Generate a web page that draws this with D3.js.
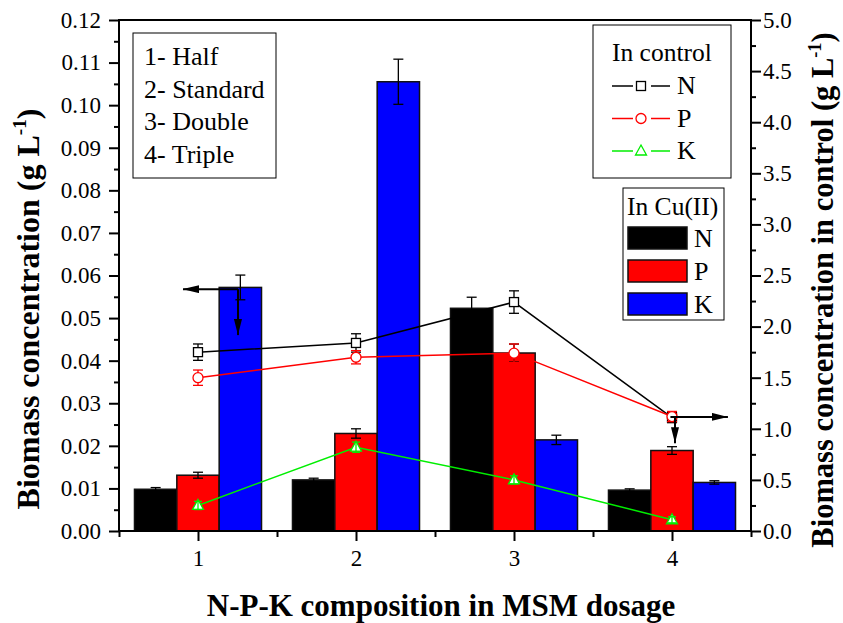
<!DOCTYPE html>
<html>
<head>
<meta charset="utf-8">
<script src="https://cdn.jsdelivr.net/npm/d3@7"></script>
<style>
  html, body { margin: 0; padding: 0; background: #fff; }
  svg { display: block; }
</style>
</head>
<body>
<svg id="chart" width="843" height="623"></svg>
<script>
// NPK dosage groups (1 = half, 2 = standard, 3 = double, 4 = triple)
const categories = [1, 2, 3, 4];
const categoryLabels = ["1", "2", "3", "4"];

// Biomass in Cu(II) medium, g/L (left axis) with error
const cuN = [0.0098, 0.0120, 0.0523, 0.0096];
const cuNErr = [0.0004, 0.0004, 0.0026, 0.0003];
const cuP = [0.0131, 0.0229, 0.0418, 0.0189];
const cuPErr = [0.0007, 0.0011, 0.0021, 0.0009];
const cuK = [0.0572, 0.1055, 0.0214, 0.0114];
const cuKErr = [0.0029, 0.0053, 0.0011, 0.0004];

// Biomass in control medium, g/L (right axis) with error
const ctrlN = [1.75, 1.84, 2.24, 1.11];
const ctrlNErr = [0.08, 0.09, 0.11, 0.05];
const ctrlP = [1.50, 1.70, 1.74, 1.12];
const ctrlPErr = [0.075, 0.065, 0.09, 0.05];
const ctrlK = [0.25, 0.82, 0.50, 0.11];
const ctrlKErr = [0.04, 0.05, 0.04, 0.03];

// Axis ticks
const leftTicks = [0.00, 0.01, 0.02, 0.03, 0.04, 0.05, 0.06, 0.07, 0.08, 0.09, 0.10, 0.11, 0.12];
const rightTicks = [0.0, 0.5, 1.0, 1.5, 2.0, 2.5, 3.0, 3.5, 4.0, 4.5, 5.0];

// Dosage legend lines
const dosageNames = ["1- Half", "2- Standard", "3- Double", "4- Triple"];

const FONT = "'Liberation Serif', 'Times New Roman', Times, serif";
const svg = d3.select("#chart");

const plot = { left: 119, right: 751, top: 20, bottom: 531 };
const x = d3.scaleLinear().domain([0.5, 4.5]).range([plot.left, plot.right]);
const yL = d3.scaleLinear().domain([0, 0.12]).range([plot.bottom, plot.top]);
const yR = d3.scaleLinear().domain([0, 5]).range([plot.bottom, plot.top]);

const barW = 0.268; // bar width in category units
const colors = { N: "#000000", P: "#ff0000", K: "#0000ff" };
const lineColors = { N: "#000000", P: "#ff0000", K: "#00ee00" };

// ---- Bars (Cu(II)) ----
const barSeries = [
  { key: "N", vals: cuN, errs: cuNErr, off: -1 },
  { key: "P", vals: cuP, errs: cuPErr, off: 0 },
  { key: "K", vals: cuK, errs: cuKErr, off: 1 }
];
const barData = [];
barSeries.forEach(s => categories.forEach((c, i) => {
  barData.push({ key: s.key, c, v: s.vals[i], e: s.errs[i], cx: c + s.off * barW });
}));

const gBars = svg.append("g");
gBars.selectAll("rect").data(barData).join("rect")
  .attr("x", d => x(d.cx - barW / 2))
  .attr("y", d => yL(d.v))
  .attr("width", d => x(d.cx + barW / 2) - x(d.cx - barW / 2))
  .attr("height", d => yL(0) - yL(d.v))
  .attr("fill", d => colors[d.key])
  .attr("stroke", "#111")
  .attr("stroke-width", 1.5);

function errorBars(g, data, xf, yf, color, cap) {
  const eg = g.append("g").attr("stroke", color).attr("stroke-width", 1.3).attr("fill", "none");
  data.forEach(d => {
    const cx = xf(d), y1 = yf(d.v - d.e), y2 = yf(d.v + d.e);
    eg.append("line").attr("x1", cx).attr("x2", cx).attr("y1", y1).attr("y2", y2);
    eg.append("line").attr("x1", cx - cap).attr("x2", cx + cap).attr("y1", y1).attr("y2", y1);
    eg.append("line").attr("x1", cx - cap).attr("x2", cx + cap).attr("y1", y2).attr("y2", y2);
  });
}
errorBars(svg, barData, d => x(d.cx), yL, "#000", 5);

// ---- Control series (lines + markers) ----
const ctrlSeries = [
  { key: "N", vals: ctrlN, errs: ctrlNErr, shape: "square" },
  { key: "P", vals: ctrlP, errs: ctrlPErr, shape: "circle" },
  { key: "K", vals: ctrlK, errs: ctrlKErr, shape: "triangle" }
];

function drawMarker(g, shape, cx, cy, color) {
  if (shape === "square") {
    g.append("rect").attr("x", cx - 4.5).attr("y", cy - 4.5).attr("width", 9).attr("height", 9)
      .attr("fill", "#fff").attr("stroke", color).attr("stroke-width", 1.3);
  } else if (shape === "circle") {
    g.append("circle").attr("cx", cx).attr("cy", cy).attr("r", 5)
      .attr("fill", "#fff").attr("stroke", color).attr("stroke-width", 1.3);
  } else {
    g.append("path").attr("d", `M${cx},${cy - 6}L${cx + 5.5},${cy + 4}L${cx - 5.5},${cy + 4}Z`)
      .attr("fill", "#fff").attr("stroke", color).attr("stroke-width", 1.3);
  }
}

const line = d3.line().x(d => x(d.c)).y(d => yR(d.v));
ctrlSeries.forEach(s => {
  const pts = categories.map((c, i) => ({ c, v: s.vals[i], e: s.errs[i] }));
  const g = svg.append("g");
  g.append("path").datum(pts).attr("d", line)
    .attr("fill", "none").attr("stroke", lineColors[s.key]).attr("stroke-width", 1.5);
  if (s.shape !== "triangle") errorBars(g, pts, d => x(d.c), yR, lineColors[s.key], 5);
  pts.forEach(p => drawMarker(g, s.shape, x(p.c), yR(p.v), lineColors[s.key]));
  if (s.shape === "triangle") errorBars(g, pts, d => x(d.c), yR, lineColors[s.key], 4);
});

// ---- Axes ----
function styleAxis(g, size) {
  g.select(".domain").remove();
  g.selectAll(".tick line").attr("stroke", "#000").attr("stroke-width", 2);
  g.selectAll(".tick text").attr("font-family", FONT).attr("font-size", size).attr("fill", "#000");
}
const minorL = d3.range(0.005, 0.12, 0.01);
const minorR = d3.range(0.25, 5, 0.5);
const minorX = [0.5, 1.5, 2.5, 3.5, 4.5];

svg.append("g").attr("transform", `translate(${plot.left},0)`)
  .call(d3.axisLeft(yL).tickValues(leftTicks).tickSize(10).tickPadding(8).tickFormat(d3.format(".2f")))
  .call(g => styleAxis(g, 23));
svg.append("g").attr("transform", `translate(${plot.left},0)`)
  .call(d3.axisLeft(yL).tickValues(minorL).tickSize(5).tickFormat(""))
  .call(g => styleAxis(g, 23));

svg.append("g").attr("transform", `translate(${plot.right},0)`)
  .call(d3.axisRight(yR).tickValues(rightTicks).tickSize(10).tickPadding(2).tickFormat(d3.format(".1f")))
  .call(g => styleAxis(g, 23));
svg.append("g").attr("transform", `translate(${plot.right},0)`)
  .call(d3.axisRight(yR).tickValues(minorR).tickSize(5).tickFormat(""))
  .call(g => styleAxis(g, 23));

svg.append("g").attr("transform", `translate(0,${plot.bottom})`)
  .call(d3.axisBottom(x).tickValues(categories).tickSize(10).tickPadding(9)
    .tickFormat((d, i) => categoryLabels[i]))
  .call(g => styleAxis(g, 23));
svg.append("g").attr("transform", `translate(0,${plot.bottom})`)
  .call(d3.axisBottom(x).tickValues(minorX).tickSize(6).tickFormat(""))
  .call(g => styleAxis(g, 23));

// frame
svg.append("rect")
  .attr("x", plot.left).attr("y", plot.top)
  .attr("width", plot.right - plot.left).attr("height", plot.bottom - plot.top)
  .attr("fill", "none").attr("stroke", "#000").attr("stroke-width", 2);

// ---- Annotation arrows ----
const defs = svg.append("defs");
defs.append("marker").attr("id", "head")
  .attr("viewBox", "0 0 16 8").attr("refX", 16).attr("refY", 4)
  .attr("markerWidth", 16).attr("markerHeight", 8).attr("markerUnits", "userSpaceOnUse")
  .attr("orient", "auto")
  .append("path").attr("d", "M0,0L16,4L0,8Z").attr("fill", "#000");

const arrows = [
  { x0: 1.253, v0: 0.0568, x1: 0.905, v1: 0.0568 },
  { x0: 1.253, v0: 0.0568, x1: 1.253, v1: 0.0460 },
  { x0: 3.99, v0: 0.0268, x1: 4.354, v1: 0.0268 },
  { x0: 4.019, v0: 0.0268, x1: 4.019, v1: 0.0206 }
];
svg.append("g").selectAll("line").data(arrows).join("line")
  .attr("x1", d => x(d.x0)).attr("y1", d => yL(d.v0))
  .attr("x2", d => x(d.x1)).attr("y2", d => yL(d.v1))
  .attr("stroke", "#000").attr("stroke-width", 2)
  .attr("marker-end", "url(#head)");

// ---- Axis titles ----
function title(txt, sup, close, tx, ty, rot, size) {
  const t = svg.append("text")
    .attr("transform", `translate(${tx},${ty}) rotate(${rot})`)
    .attr("text-anchor", "middle")
    .attr("font-family", FONT).attr("font-weight", "bold").attr("font-size", size).attr("fill", "#000");
  t.append("tspan").text(txt);
  if (sup) {
    t.append("tspan").attr("dy", -size * 0.4).attr("font-size", size * 0.6).text(sup);
    t.append("tspan").attr("dy", size * 0.4).text(close);
  }
  return t;
}
title("Biomass concentration (g L", "-1", ")", 39, 309, -90, 32);
title("Biomass concentration in control (g L", "-1", ")", 833, 290, -90, 30.5);
title("N-P-K composition in MSM dosage", null, null, 441, 616, 0, 31);

// ---- Legend: dosage ----
const lg1 = svg.append("g");
lg1.append("rect").attr("x", 133).attr("y", 33).attr("width", 143).attr("height", 145)
  .attr("fill", "#fff").attr("stroke", "#000").attr("stroke-width", 1);
lg1.selectAll("text").data(dosageNames).join("text")
  .attr("x", 144).attr("y", (d, i) => 65 + i * 32.7)
  .attr("font-family", FONT).attr("font-size", 26).text(d => d);

// ---- Legend: control ----
const lg2 = svg.append("g");
lg2.append("rect").attr("x", 593).attr("y", 25).attr("width", 138).attr("height", 153)
  .attr("fill", "#fff").attr("stroke", "#000").attr("stroke-width", 1);
lg2.append("text").attr("x", 612).attr("y", 61)
  .attr("font-family", FONT).attr("font-size", 25.5).text("In control");
ctrlSeries.forEach((s, i) => {
  const cy = 86 + i * 32.5;
  const c = lineColors[s.key];
  lg2.append("line").attr("x1", 612).attr("x2", 633).attr("y1", cy).attr("y2", cy).attr("stroke", c).attr("stroke-width", 1.5);
  lg2.append("line").attr("x1", 651).attr("x2", 670).attr("y1", cy).attr("y2", cy).attr("stroke", c).attr("stroke-width", 1.5);
  drawMarker(lg2, s.shape, 641, cy, c);
  lg2.append("text").attr("x", 677).attr("y", cy + 8)
    .attr("font-family", FONT).attr("font-size", 26).text(s.key);
});

// ---- Legend: Cu(II) ----
const lg3 = svg.append("g");
lg3.append("rect").attr("x", 623).attr("y", 188).attr("width", 101).attr("height", 132)
  .attr("fill", "#fff").attr("stroke", "#000").attr("stroke-width", 1);
lg3.append("text").attr("x", 627).attr("y", 215)
  .attr("font-family", FONT).attr("font-size", 25.5).text("In Cu(II)");
barSeries.forEach((s, i) => {
  const y0 = 227 + i * 33;
  lg3.append("rect").attr("x", 628).attr("y", y0).attr("width", 59).attr("height", 22)
    .attr("fill", colors[s.key]).attr("stroke", "#111").attr("stroke-width", 1.5);
  lg3.append("text").attr("x", 694).attr("y", y0 + 20)
    .attr("font-family", FONT).attr("font-size", 26).text(s.key);
});
</script>
</body>
</html>
